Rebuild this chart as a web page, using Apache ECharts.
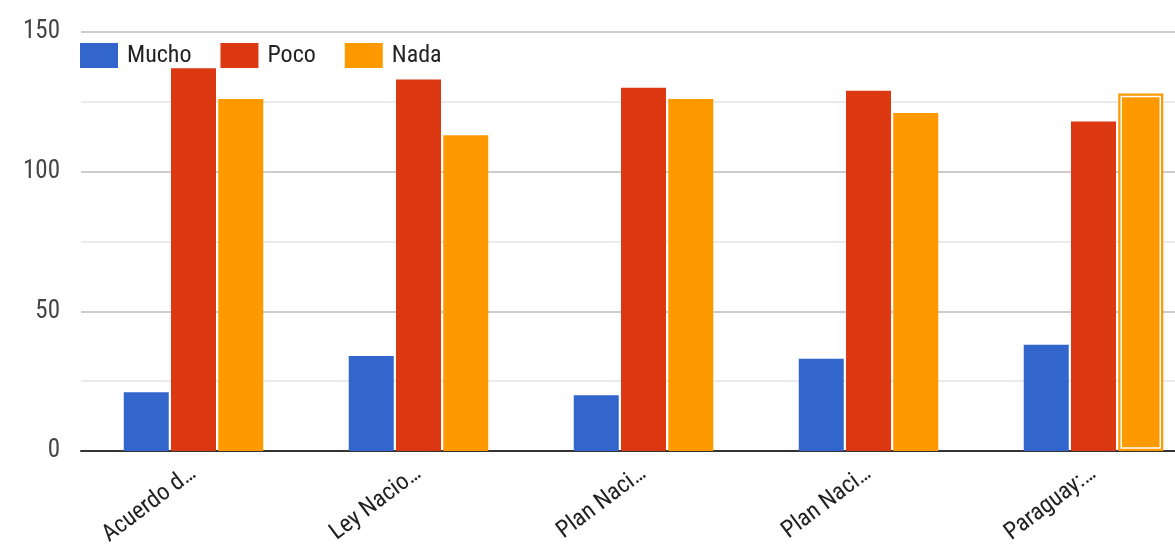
<!DOCTYPE html>
<html>
<head>
<meta charset="utf-8">
<script src="https://cdn.jsdelivr.net/npm/echarts@6/dist/echarts.min.js"></script>
<style>
  html, body { margin: 0; padding: 0; background: #fff; overflow: hidden; }
  /* the plot runs past the right edge of the window */
  #chart { width: 1206px; height: 552px; }
</style>
</head>
<body>
<div id="chart"></div>
<script>
// Categories (labels are shown truncated)
const categories = ['Acuerdo d…', 'Ley Nacio…', 'Plan Naci…', 'Plan Naci…', 'Paraguay:…'];
const seriesNames = ['Mucho', 'Poco', 'Nada'];
const mucho = [21, 34, 20, 33, 38];
const poco = [137, 133, 130, 129, 118];
const nada = [126, 113, 126, 121, 128];
const colors = ['#3366cc', '#dc3912', '#ff9900'];

// The last "Nada" bar is drawn in its selected state
const selectedIndex = 4;

const FONT = '"Liberation Sans Narrow", "Arial Narrow", "Roboto Condensed", "Liberation Sans", Arial, sans-serif';
const BAR_W = 45;
const GAP = 0.05;

const chart = echarts.init(document.getElementById('chart'), null, { renderer: 'canvas' });

function barSeries(name, values, color, selected) {
  return {
    name: name,
    type: 'bar',
    barWidth: BAR_W,
    barGap: (GAP * 100) + '%',
    animation: false,
    itemStyle: { color: color },
    data: values.map((v, i) => {
      if (selected === i) {
        return {
          value: v,
          itemStyle: { color: color, borderColor: color, borderWidth: 3 }
        };
      }
      return v;
    })
  };
}

// White inner outline of the selected bar, placed in the third bar slot
const selectionOutline = {
  type: 'custom',
  silent: true,
  z: 5,
  data: [[selectedIndex, nada[selectedIndex]]],
  renderItem: function (params, api) {
    const top = api.coord([api.value(0), api.value(1)]);
    const base = api.coord([api.value(0), 0]);
    const offset = BAR_W * (1 + GAP);
    const inset = 3;
    const cx = top[0] + offset;
    return {
      type: 'rect',
      shape: {
        x: cx - BAR_W / 2 + inset,
        y: top[1] + inset,
        width: BAR_W - inset * 2,
        height: base[1] - top[1] - inset * 2
      },
      style: { fill: null, stroke: '#ffffff', lineWidth: 1.5 }
    };
  }
};

chart.setOption({
  animation: false,
  color: colors,
  grid: { left: 81, right: 0, top: 32, bottom: 101, containLabel: false },
  legend: {
    left: 80,
    top: 43,
    padding: 0,
    itemWidth: 38,
    itemHeight: 25,
    itemGap: 29,
    icon: 'rect',
    textStyle: { fontFamily: FONT, fontSize: 24, color: '#222', padding: [3, 0, 0, 4] },
    data: seriesNames
  },
  xAxis: {
    type: 'category',
    data: categories,
    axisLine: { show: true, lineStyle: { color: '#333', width: 2 } },
    axisTick: { show: false },
    axisLabel: {
      rotate: 37,
      margin: 20,
      interval: 0,
      fontFamily: FONT,
      fontSize: 24,
      color: '#222'
    }
  },
  yAxis: {
    type: 'value',
    min: 0,
    max: 150,
    interval: 50,
    axisLine: { show: false },
    axisTick: { show: false },
    axisLabel: { margin: 21, fontFamily: FONT, fontSize: 25, color: '#444' },
    splitLine: { lineStyle: { color: '#cccccc', width: 2 } },
    minorTick: { show: false, splitNumber: 2 },
    minorSplitLine: { show: true, lineStyle: { color: '#ebebeb', width: 2 } }
  },
  series: [
    barSeries('Mucho', mucho, colors[0]),
    barSeries('Poco', poco, colors[1]),
    barSeries('Nada', nada, colors[2], selectedIndex),
    selectionOutline
  ]
});
</script>
</body>
</html>
